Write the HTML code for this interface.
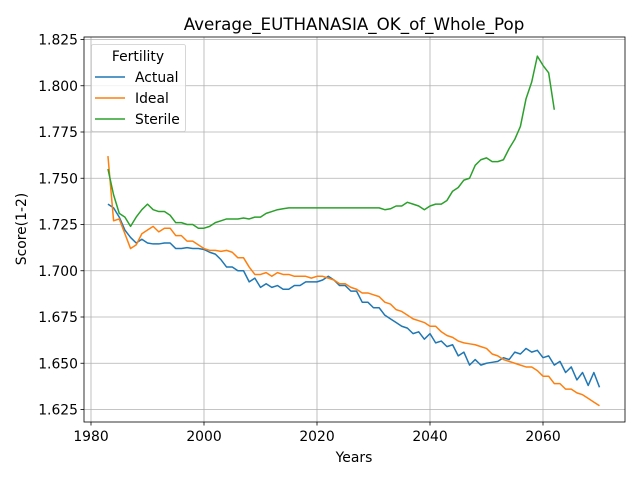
<!DOCTYPE html>
<html><head><meta charset="utf-8"><style>
body{margin:0;background:#fff;font-family:"Liberation Sans","DejaVu Sans",sans-serif}
svg text{font-family:"DejaVu Sans","Liberation Sans",sans-serif}
</style></head><body>
<svg id="c" width="640" height="480" xmlns="http://www.w3.org/2000/svg"></svg>
<script>
const years0 = 1983;
const actual = [1.736,1.734,1.729,1.722,1.718,1.715,1.717,1.715,1.7145,1.7145,1.715,1.715,1.712,1.712,1.7125,1.712,1.712,1.7115,1.710,1.709,1.706,1.702,1.702,1.700,1.700,1.694,1.696,1.691,1.693,1.691,1.692,1.690,1.690,1.692,1.692,1.694,1.694,1.694,1.695,1.697,1.695,1.692,1.692,1.689,1.689,1.683,1.683,1.680,1.680,1.676,1.674,1.672,1.670,1.669,1.666,1.667,1.663,1.666,1.661,1.662,1.659,1.660,1.654,1.656,1.649,1.652,1.649,1.650,1.6505,1.651,1.653,1.652,1.656,1.655,1.658,1.656,1.657,1.653,1.654,1.649,1.651,1.645,1.648,1.641,1.645,1.638,1.645,1.637];
const ideal = [1.762,1.727,1.728,1.720,1.712,1.714,1.720,1.722,1.724,1.721,1.723,1.723,1.719,1.719,1.716,1.716,1.714,1.712,1.711,1.711,1.7105,1.711,1.710,1.707,1.707,1.702,1.698,1.698,1.699,1.697,1.699,1.698,1.698,1.697,1.697,1.697,1.696,1.697,1.697,1.696,1.695,1.693,1.693,1.691,1.690,1.688,1.688,1.687,1.686,1.683,1.682,1.679,1.678,1.676,1.674,1.673,1.672,1.670,1.670,1.667,1.665,1.664,1.662,1.661,1.6605,1.660,1.659,1.658,1.655,1.654,1.652,1.651,1.650,1.649,1.648,1.648,1.646,1.643,1.643,1.639,1.639,1.636,1.636,1.634,1.633,1.631,1.629,1.627];
const sterile = [1.755,1.741,1.731,1.729,1.724,1.729,1.733,1.736,1.733,1.732,1.732,1.730,1.726,1.726,1.725,1.725,1.723,1.723,1.724,1.726,1.727,1.728,1.728,1.728,1.7285,1.728,1.729,1.729,1.731,1.732,1.733,1.7335,1.734,1.734,1.734,1.734,1.734,1.734,1.734,1.734,1.734,1.734,1.734,1.734,1.734,1.734,1.734,1.734,1.734,1.733,1.7335,1.735,1.735,1.737,1.736,1.735,1.733,1.735,1.736,1.736,1.738,1.743,1.745,1.749,1.750,1.757,1.760,1.761,1.759,1.759,1.760,1.766,1.771,1.778,1.793,1.802,1.816,1.811,1.807,1.787];
const xTicks = [1980,2000,2020,2040,2060];
const yTicks = [1.625,1.650,1.675,1.700,1.725,1.750,1.775,1.800,1.825];
const seriesNames = ["Actual","Ideal","Sterile"];
const colors = ["#1f77b4","#ff7f0e","#2ca02c"];

const L=84,R=625,T=37,B=422;
const X=v=>91+(v-1980)*(543-91)/80;
const Y=v=>409.5-(v-1.625)*(370/0.2);
const svg=document.getElementById('c');
const NS='http://www.w3.org/2000/svg';
function mk(t,a,txt){const e=document.createElementNS(NS,t);for(const k in a)e.setAttribute(k,a[k]);if(txt!=null)e.textContent=txt;svg.appendChild(e);return e;}

xTicks.forEach(t=>{
  const g=mk('line',{x1:X(t),x2:X(t),y1:T,y2:B,stroke:'#b0b0b0','stroke-width':0.8});
  
  
  mk('line',{x1:X(t),x2:X(t),y1:B,y2:B+3.5,stroke:'#000','stroke-width':0.8});
  const tx=mk('text',{x:X(t),y:B+19,'text-anchor':'middle','font-size':13.9,fill:'#000'},String(t));
  
  
});
yTicks.forEach(t=>{
  const g=mk('line',{x1:L,x2:R,y1:Y(t),y2:Y(t),stroke:'#b0b0b0','stroke-width':0.8});
  
  
  mk('line',{x1:L-3.5,x2:L,y1:Y(t),y2:Y(t),stroke:'#000','stroke-width':0.8});
  const tx=mk('text',{x:L-6,y:Y(t)+5,'text-anchor':'end','font-size':13.9,fill:'#000'},t.toFixed(3));
  
  
});
[actual,ideal,sterile].forEach((s,i)=>{
  const pts=s.map((v,j)=>X(years0+j).toFixed(2)+','+Y(v).toFixed(2)).join(' ');
  const p=mk('polyline',{points:pts,fill:'none',stroke:colors[i],'stroke-width':1.5,'stroke-linejoin':'round'});
  
  
});
const fr=mk('rect',{x:L,y:T,width:R-L,height:B-T,fill:'none',stroke:'#000','stroke-width':0.8});


const ti=mk('text',{x:354,y:30,'text-anchor':'middle','font-size':16.7,fill:'#000'},'Average_EUTHANASIA_OK_of_Whole_Pop');


const xl=mk('text',{x:354,y:462,'text-anchor':'middle','font-size':13.9,fill:'#000'},'Years');


const yl=mk('text',{x:26,y:229,'text-anchor':'middle','font-size':13.9,fill:'#000',transform:'rotate(-90 26 229)'},'Score(1-2)');


const lg=mk('rect',{x:91.5,y:44.5,width:94,height:87,rx:2,fill:'#fff','fill-opacity':0.8,stroke:'#ccc','stroke-width':0.8});


const lt=mk('text',{x:138,y:61,'text-anchor':'middle','font-size':13.9,fill:'#000'},'Fertility');


seriesNames.forEach((n,i)=>{
  const y=77+i*21;
  const ln=mk('line',{x1:95,x2:125,y1:y,y2:y,stroke:colors[i],'stroke-width':1.5});
  
  
  const t=mk('text',{x:135,y:y+5,'font-size':13.9,fill:'#000'},n);
  
  
});
</script>
</body></html>
